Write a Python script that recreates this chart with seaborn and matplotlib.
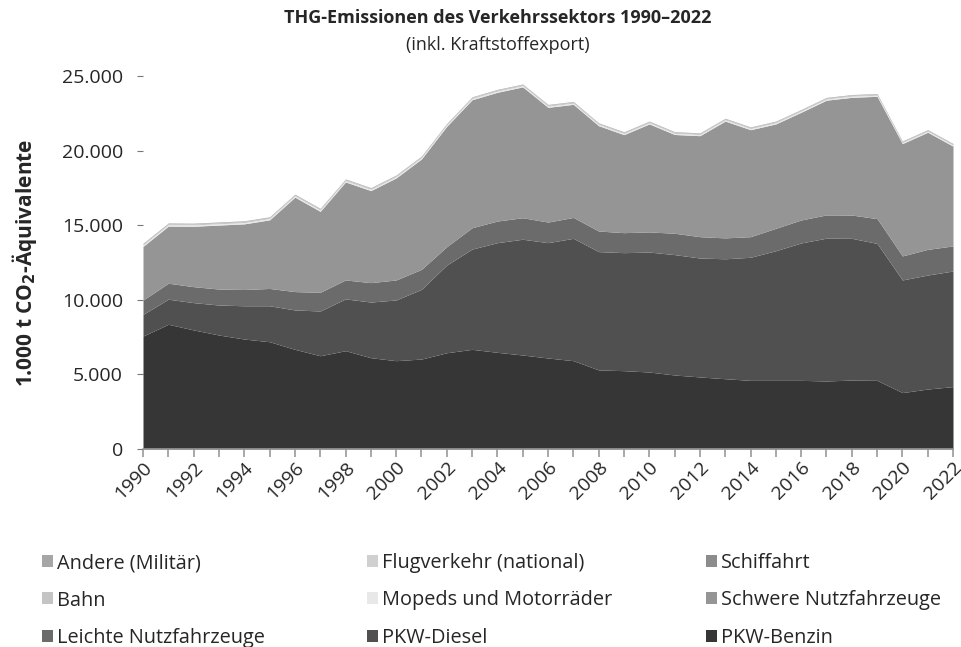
import matplotlib
matplotlib.use("Agg")
import matplotlib.pyplot as plt
from matplotlib.patches import Patch
from matplotlib.ticker import FuncFormatter, MultipleLocator
import seaborn as sns
import pandas as pd

years = list(range(1990, 2023))

pkw_benzin = [7570, 8360, 7980, 7640, 7370, 7190, 6680, 6250, 6590, 6120, 5920,
              6030, 6450, 6680, 6480, 6300, 6100, 5920, 5300, 5250, 5160, 4960,
              4830, 4710, 4600, 4600, 4600, 4560, 4620, 4600, 3780, 4020, 4180]
pkw_diesel = [1450, 1680, 1830, 2010, 2230, 2410, 2640, 3000, 3470, 3730, 4070,
              4670, 5880, 6720, 7350, 7760, 7730, 8200, 7930, 7910, 8040, 8070,
              7970, 8040, 8250, 8690, 9210, 9570, 9500, 9180, 7550, 7640, 7750]
leichte_nfz = [960, 1070, 1070, 1070, 1090, 1160, 1230, 1250, 1270, 1300, 1340,
               1340, 1230, 1430, 1450, 1440, 1380, 1400, 1380, 1340, 1350, 1430,
               1430, 1400, 1380, 1500, 1540, 1560, 1560, 1660, 1610, 1720, 1680]
schwere_nfz = [3600, 3830, 4050, 4290, 4400, 4600, 6330, 5430, 6570, 6170, 6840,
               7400, 8070, 8580, 8630, 8770, 7690, 7580, 7060, 6570, 7240, 6620,
               6770, 7830, 7170, 7000, 7220, 7690, 7890, 8200, 7530, 7850, 6690]
mopeds = [95, 95, 94, 94, 92, 92, 92, 90, 90, 90, 89, 89, 88, 88, 87, 87, 87,
          87, 86, 86, 85, 85, 85, 85, 85, 85, 85, 85, 85, 85, 80, 82, 82]
bahn = [45, 44, 44, 43, 43, 42, 42, 42, 41, 41, 40, 40, 40, 40, 39, 39, 39,
        38, 38, 38, 37, 37, 37, 36, 36, 36, 35, 35, 35, 34, 33, 33, 33]
schiffahrt = [15, 15, 15, 15, 15, 15, 15, 15, 15, 15, 15, 15, 15, 15, 15, 15, 15,
              15, 15, 15, 15, 15, 15, 15, 15, 15, 15, 15, 15, 15, 14, 14, 14]
flugverkehr = [15, 15, 15, 16, 16, 16, 16, 17, 17, 17, 18, 18, 18, 18, 18, 18, 18,
               18, 18, 17, 17, 17, 17, 17, 17, 17, 17, 17, 17, 17, 12, 13, 14]
andere = [40, 40, 39, 39, 38, 38, 37, 37, 37, 36, 36, 36, 35, 35, 35, 35, 35,
          35, 35, 35, 35, 35, 35, 35, 35, 35, 35, 35, 35, 35, 35, 35, 35]

df = pd.DataFrame({
    "PKW-Benzin": pkw_benzin,
    "PKW-Diesel": pkw_diesel,
    "Leichte Nutzfahrzeuge": leichte_nfz,
    "Schwere Nutzfahrzeuge": schwere_nfz,
    "Mopeds und Motorräder": mopeds,
    "Bahn": bahn,
    "Schiffahrt": schiffahrt,
    "Flugverkehr (national)": flugverkehr,
    "Andere (Militär)": andere,
}, index=years)

farben = {
    "PKW-Benzin": "#363636",
    "PKW-Diesel": "#505050",
    "Leichte Nutzfahrzeuge": "#6b6b6b",
    "Schwere Nutzfahrzeuge": "#959595",
    "Mopeds und Motorräder": "#e8e8e8",
    "Bahn": "#c4c4c4",
    "Schiffahrt": "#8c8c8c",
    "Flugverkehr (national)": "#d0d0d0",
    "Andere (Militär)": "#a6a6a6",
}

sns.set_theme(style="white")
plt.rcParams["font.family"] = ["Open Sans", "DejaVu Sans"]

fig = plt.figure(figsize=(9.61, 6.47), dpi=100)
ax = fig.add_axes([143 / 961, 1 - 449 / 647, 810 / 961, 373 / 647])

ax.stackplot(df.index, [df[c] for c in df.columns],
             colors=[farben[c] for c in df.columns], linewidth=0)

ax.set_xlim(1990, 2022)
ax.set_ylim(0, 25000)
ax.yaxis.set_major_locator(MultipleLocator(5000))
ax.yaxis.set_major_formatter(FuncFormatter(lambda v, p: f"{int(v):,}".replace(",", ".")))
ax.xaxis.set_major_locator(MultipleLocator(2))
ax.xaxis.set_minor_locator(MultipleLocator(1))
ax.xaxis.set_major_formatter(FuncFormatter(lambda v, p: f"{int(v)}"))

sns.despine(ax=ax, left=True, top=True, right=True)
ax.spines["bottom"].set_color("#999999")
ax.spines["bottom"].set_linewidth(1.2)
ax.tick_params(axis="x", which="both", direction="out", length=6, width=1.2,
               color="#999999", labelsize=14, pad=1, bottom=True)
ax.tick_params(axis="y", direction="out", length=4, width=0.8, color="#777777",
               labelsize=14, pad=7, left=True)
for lbl in ax.get_xticklabels():
    lbl.set_rotation(45)
    lbl.set_ha("right")
    lbl.set_rotation_mode("anchor")
for lbl in ax.get_yticklabels():
    lbl.set_x(-0.006)

ax.set_ylabel("1.000 t CO$_\\mathbf{2}$-Äquivalente", fontsize=15,
              fontweight="bold", labelpad=16)

fig.text(0.518, 0.972, "THG-Emissionen des Verkehrssektors 1990–2022",
         ha="center", va="center", fontsize=13, fontweight="bold")
fig.text(0.518, 0.930, "(inkl. Kraftstoffexport)", ha="center", va="center",
         fontsize=13)

# Legende: 3 Zeilen x 3 Spalten, jede Zelle fest positioniert
zeilen = [
    ["Andere (Militär)", "Flugverkehr (national)", "Schiffahrt"],
    ["Bahn", "Mopeds und Motorräder", "Schwere Nutzfahrzeuge"],
    ["Leichte Nutzfahrzeuge", "PKW-Diesel", "PKW-Benzin"],
]
x_pos = [42 / 961, 367 / 961, 706 / 961]
y_pos = [563, 600.5, 638]
for yp, namen in zip(y_pos, zeilen):
    for xp, n in zip(x_pos, namen):
        fig.legend([Patch(facecolor=farben[n], edgecolor="none")], [n],
                   loc="center left", bbox_to_anchor=(xp, 1 - yp / 647),
                   frameon=False, fontsize=14.3, handlelength=0.55,
                   handleheight=0.55, handletextpad=0.2, borderaxespad=0,
                   borderpad=0)

fig.savefig("out.png", dpi=100)
plt.close(fig)
